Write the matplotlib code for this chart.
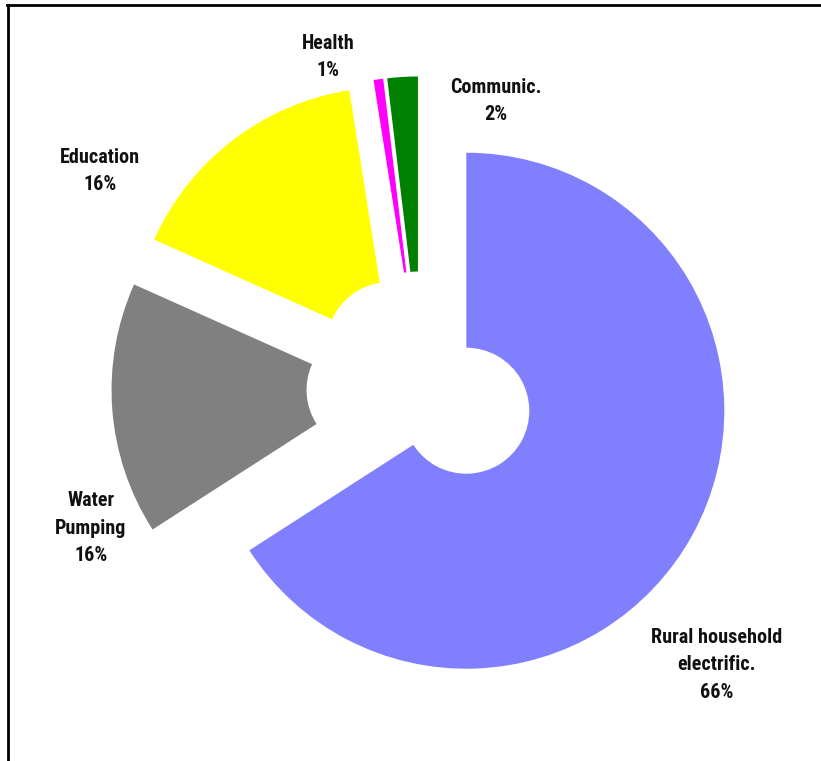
import matplotlib
matplotlib.use("Agg")
import matplotlib.pyplot as plt
from matplotlib import font_manager
from matplotlib.lines import Line2D

names = ["Rural household\nelectrific.", "Water\nPumping", "Education", "Health", "Communic."]
shares = [65.9, 15.8, 15.8, 0.6, 1.9]
colors = ["#8080ff", "#808080", "#ffff00", "#ff00ff", "#008000"]

# label anchors in pixels (x from left, y from top)
label_px = [(717, 665), (91, 528), (100, 171), (328, 57), (496, 101)]

W, H = 821, 761
CX, CY, R = 421, 386, 258   # pie centre and radius in pixels


def px(x, y):
    return (x - CX) / R, (CY - y) / R


available = {f.name for f in font_manager.fontManager.ttflist}
family = [f for f in ["Liberation Sans Narrow", "Roboto Condensed", "Liberation Sans"] if f in available]
plt.rcParams["font.family"] = family + ["DejaVu Sans"]

fig = plt.figure(figsize=(W / 100, H / 100), dpi=100)
ax = fig.add_axes([0, 0, 1, 1])

ax.pie(shares, colors=colors, startangle=90, counterclock=False,
       explode=[0.2] * len(shares), radius=1.0,
       wedgeprops=dict(width=1 - 63 / R, linewidth=0, antialiased=True))

for name, val, (x, y) in zip(names, shares, label_px):
    tx, ty = px(x, y)
    ax.text(tx, ty, f"{name}\n{val:.0f}%", ha="center", va="center",
            fontsize=14.5, fontweight="bold", linespacing=1.55, color="#111111")

x0, x1 = px(0, 0)[0], px(W, 0)[0]
y1, y0 = px(0, 0)[1], px(0, H)[1]
ax.set_xlim(x0, x1)
ax.set_ylim(y0, y1)
ax.set_aspect("equal", adjustable="box")
ax.axis("off")

# outer frame: top and left edges only
fig.add_artist(Line2D([7 / W, 1], [1 - 5 / H, 1 - 5 / H], transform=fig.transFigure,
                      color="black", linewidth=2))
fig.add_artist(Line2D([8 / W, 8 / W], [0, 1 - 5 / H], transform=fig.transFigure,
                      color="black", linewidth=2))

fig.savefig("out.png", dpi=100, facecolor="white")
